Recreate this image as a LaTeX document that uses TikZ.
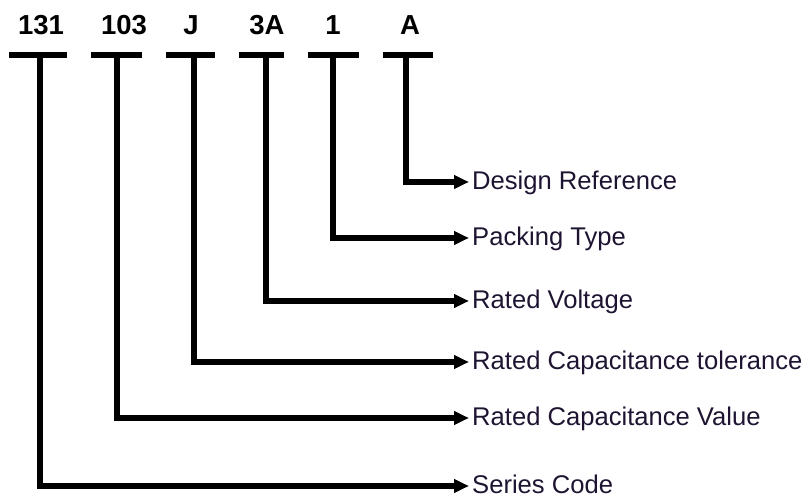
\documentclass[tikz,border=0pt]{standalone}
\usepackage{fontspec}
\setmainfont{Liberation Sans}
\usetikzlibrary{arrows.meta}
\definecolor{txtdark}{RGB}{30,20,50}

\begin{document}
\begin{tikzpicture}[x=1pt,y=-1pt,>={Triangle[length=15pt,width=13pt]},
    codebox/.style={anchor=base,inner sep=0pt,font=\fontsize{27.5}{30}\selectfont\bfseries},
    descbox/.style={anchor=west,inner xsep=3pt,inner ysep=0pt,text height=17.5pt,text depth=2.5pt,
      text=txtdark,font=\fontsize{25.6}{30}\selectfont},
    bar/.style={line width=5.5pt},
    conn/.style={->,line width=5.5pt}]
    \useasboundingbox (0,0) rectangle (807,497);
    % code letters above the bars
    \node[codebox] (c131) at (41,35) {131};
    \node[codebox] (c103) at (124,35) {103};
    \node[codebox] (cJ) at (191,35) {J};
    \node[codebox] (c3A) at (267,35) {3A};
    \node[codebox] (c1) at (333,35) {1};
    \node[codebox] (cA) at (410,35) {A};
    % bars
    \draw[bar] (9,55) -- (67,55);
    \draw[bar] (91,55) -- (142,55);
    \draw[bar] (166,55) -- (215,55);
    \draw[bar] (239,55) -- (284,55);
    \draw[bar] (308,55) -- (359,55);
    \draw[bar] (383,55) -- (433,55);
    \coordinate (s131) at (40,55);
    \coordinate (s103) at (117,55);
    \coordinate (sJ) at (194,55);
    \coordinate (s3A) at (266,55);
    \coordinate (s1) at (333,55);
    \coordinate (sA) at (406,55);
    % descriptions
    \node[descbox] (dA) at (469,182) {Design Reference};
    \node[descbox] (d1) at (469,238) {Packing Type};
    \node[descbox] (d3A) at (469,301) {Rated Voltage};
    \node[descbox] (dJ) at (469,362) {Rated Capacitance tolerance};
    \node[descbox] (d103) at (469,418) {Rated Capacitance Value};
    \node[descbox] (d131) at (469,486) {Series Code};
    % connectors
    \foreach \k in {A,1,3A,J,103,131}
      \draw[conn] (s\k) |- (d\k.west);
\end{tikzpicture}
\end{document}
